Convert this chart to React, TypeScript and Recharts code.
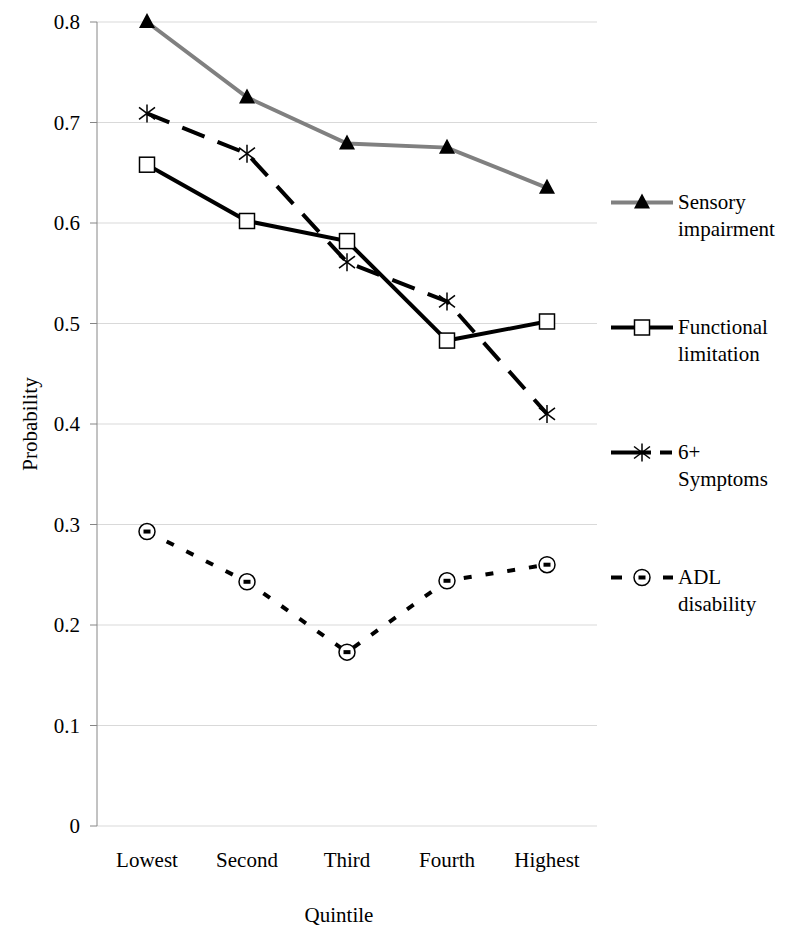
import {
  CartesianGrid,
  Legend,
  Line,
  LineChart,
  XAxis,
  YAxis,
} from "recharts";

const quintiles = ["Lowest", "Second", "Third", "Fourth", "Highest"];
const sensory = [0.8, 0.725, 0.679, 0.675, 0.635];
const functional = [0.658, 0.602, 0.582, 0.483, 0.502];
const symptoms = [0.709, 0.669, 0.561, 0.522, 0.41];
const adl = [0.293, 0.243, 0.173, 0.244, 0.26];
const yTicks = [0, 0.1, 0.2, 0.3, 0.4, 0.5, 0.6, 0.7, 0.8];
const boundaryTicks = [0, 1, 2, 3, 4, 5];

const data = quintiles.map((q, i) => ({
  quintile: q,
  sensory: sensory[i],
  functional: functional[i],
  symptoms: symptoms[i],
  adl: adl[i],
}));

const FONT = "Liberation Serif";
const FS = 21;
const AXIS = "#868686";

type Shape = "triangle" | "square" | "star" | "circle";

const marker = (shape: Shape, cx: number, cy: number, key?: string | number) => {
  if (shape === "triangle") {
    return (
      <polygon
        key={key}
        points={`${cx},${cy - 9} ${cx - 8},${cy + 6} ${cx + 8},${cy + 6}`}
        fill="#000"
      />
    );
  }
  if (shape === "square") {
    return (
      <rect
        key={key}
        x={cx - 7.5}
        y={cy - 7.5}
        width={15}
        height={15}
        fill="#fff"
        stroke="#000"
        strokeWidth={1.5}
      />
    );
  }
  if (shape === "star") {
    return (
      <g key={key} stroke="#000" strokeWidth={1.5}>
        <line x1={cx} y1={cy - 9} x2={cx} y2={cy + 9} />
        <line x1={cx - 8} y1={cy - 6} x2={cx + 8} y2={cy + 6} />
        <line x1={cx - 8} y1={cy + 6} x2={cx + 8} y2={cy - 6} />
      </g>
    );
  }
  return (
    <g key={key}>
      <circle cx={cx} cy={cy} r={8} fill="#fff" stroke="#000" strokeWidth={1.5} />
      <rect x={cx - 3.5} y={cy - 2} width={7} height={4} fill="#000" />
    </g>
  );
};

const series = [
  { key: "sensory", label: ["Sensory", "impairment"], color: "#808080", dash: undefined, legendDash: undefined, shape: "triangle" as Shape },
  { key: "functional", label: ["Functional", "limitation"], color: "#000", dash: undefined, legendDash: undefined, shape: "square" as Shape },
  { key: "symptoms", label: ["6+", "Symptoms"], color: "#000", dash: "24 14", legendDash: "40 9 12", shape: "star" as Shape },
  { key: "adl", label: ["ADL", "disability"], color: "#000", dash: "8 14", legendDash: "11 41 11", shape: "circle" as Shape },
];

const LegendBox = () => (
  <div style={{ fontFamily: FONT, fontSize: FS, color: "#000" }}>
    {series.map((s) => (
      <div key={s.key} style={{ display: "flex", alignItems: "flex-start", height: 125 }}>
        <svg width={62} height={27} style={{ marginRight: 5 }}>
          <line
            x1={0}
            y1={13.5}
            x2={62}
            y2={13.5}
            stroke={s.color}
            strokeWidth={4}
            strokeDasharray={s.legendDash}
          />
          {marker(s.shape, 31, 13.5)}
        </svg>
        <div style={{ lineHeight: "27px" }}>
          {s.label[0]}
          <br />
          {s.label[1]}
        </div>
      </div>
    ))}
  </div>
);

export default function App() {
  return (
    <LineChart
      width={783}
      height={930}
      data={data}
      margin={{ top: 14, right: 194, bottom: 0, left: 0 }}
      style={{ fontFamily: FONT }}
    >
      <CartesianGrid
        xAxisId="cat"
        horizontal
        vertical={false}
        stroke="#d9d9d9"
        strokeWidth={1}
      />
      <XAxis
        xAxisId="ticks"
        type="number"
        domain={[0, 5]}
        ticks={boundaryTicks}
        tick={false}
        tickSize={8}
        height={0}
        axisLine={{ stroke: AXIS }}
        tickLine={{ stroke: AXIS }}
      />
      <XAxis
        xAxisId="cat"
        dataKey="quintile"
        padding={{ left: 50, right: 50 }}
        height={112}
        axisLine={false}
        tickLine={false}
        tickSize={8}
        tickMargin={18}
        tick={{ fill: "#000", fontSize: FS, fontFamily: FONT }}
        interval={0}
        label={{
          value: "Quintile",
          position: "insideBottom",
          offset: 16,
          dx: -8,
          fill: "#000",
          fontSize: FS,
          fontFamily: FONT,
        }}
      />
      <XAxis
        xAxisId="top"
        orientation="top"
        type="number"
        domain={[0, 5]}
        tick={false}
        tickLine={false}
        height={0}
        axisLine={{ stroke: AXIS }}
      />
      <YAxis
        domain={[0, 0.8]}
        ticks={yTicks}
        width={89}
        tickSize={7}
        tickMargin={10}
        axisLine={{ stroke: AXIS }}
        tickLine={{ stroke: AXIS }}
        tick={{ fill: "#000", fontSize: FS, fontFamily: FONT }}
        tickFormatter={(v: number) => (v === 0 ? "0" : v.toFixed(1))}
        label={{
          value: "Probability",
          angle: -90,
          position: "insideLeft",
          offset: 22,
          fill: "#000",
          fontSize: FS,
          fontFamily: FONT,
          style: { textAnchor: "middle" },
        }}
      />
      <YAxis
        yAxisId="right"
        orientation="right"
        domain={[0, 0.8]}
        width={0}
        tick={false}
        tickLine={false}
        axisLine={{ stroke: AXIS }}
      />
      {series.map((s) => (
        <Line
          key={s.key}
          xAxisId="cat"
          dataKey={s.key}
          stroke={s.color}
          strokeWidth={4}
          strokeDasharray={s.dash}
          isAnimationActive={false}
          dot={(p: any) => marker(s.shape, p.cx, p.cy, `${s.key}-${p.index}`)}
          activeDot={false}
        />
      ))}
      <Legend
        layout="vertical"
        align="center"
        verticalAlign="middle"
        wrapperStyle={{ left: 603, top: 181, width: 180 }}
        content={() => <LegendBox />}
      />
    </LineChart>
  );
}
